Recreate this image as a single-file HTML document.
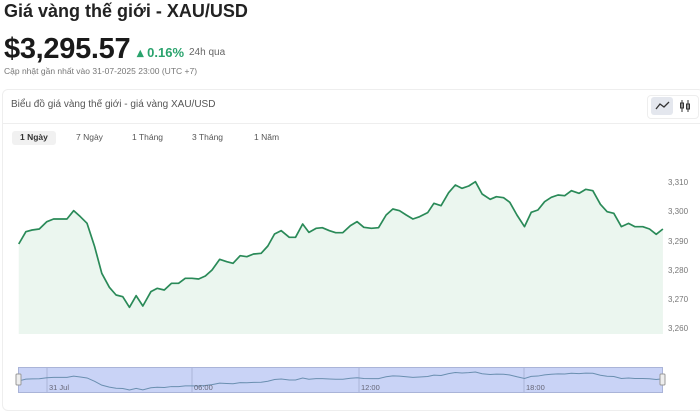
<!DOCTYPE html>
<html><head><meta charset="utf-8"><style>
body{margin:0;width:700px;height:400px;overflow:hidden;background:#fff;font-family:"Liberation Sans",sans-serif;position:relative}
.a{position:absolute;white-space:nowrap}
</style></head><body>
<div class="a" style="left:4px;top:1px;font-size:18px;font-weight:bold;color:#222">Giá vàng thế giới - XAU/USD</div>
<div class="a" style="left:4px;top:33px;font-size:29px;font-weight:bold;color:#1a1a1a;letter-spacing:-0.3px">$3,295.57</div>
<div class="a" style="left:137px;top:45px;font-size:13px;color:#2aa36d;font-weight:bold">▴ 0.16%</div>
<div class="a" style="left:189px;top:47px;font-size:10px;color:#666">24h qua</div>
<div class="a" style="left:4px;top:66px;font-size:8.5px;color:#777">Cập nhật gần nhất vào 31-07-2025 23:00 (UTC +7)</div>
<div class="a" style="left:2px;top:89px;width:700px;height:320px;border:1px solid #eee;border-radius:6px"></div>
<div class="a" style="left:11px;top:99px;font-size:10px;color:#555">Biểu đồ giá vàng thế giới - giá vàng XAU/USD</div>
<div class="a" style="left:3px;top:123px;width:697px;height:1px;background:#eee"></div>
<div class="a" style="left:647px;top:95px;width:50px;height:22px;border:1px solid #eee;border-radius:4px"></div>
<div class="a" style="left:651px;top:97px;width:22px;height:18px;background:#e4e7ee;border-radius:3px"></div>
<svg class="a" style="left:0;top:0" width="700" height="400">
<path d="M656 109 L660 104 L664 107 L669 102" stroke="#333" stroke-width="1.3" fill="none"/>
<path d="M682 100v12M688 100v12" stroke="#333" stroke-width="1"/><rect x="680.5" y="103" width="3" height="5" fill="none" stroke="#333"/><rect x="686.5" y="104" width="3" height="5" fill="none" stroke="#333"/>
</svg>
<div class="a" style="left:12px;top:131px;width:44px;height:14px;background:#f1f1f1;border-radius:3px"></div>
<div class="a" style="left:20px;top:132px;font-size:8.5px;color:#333;font-weight:bold">1 Ngày</div>
<div class="a" style="left:76px;top:132px;font-size:8.5px;color:#555">7 Ngày</div>
<div class="a" style="left:132px;top:132px;font-size:8.5px;color:#555">1 Tháng</div>
<div class="a" style="left:192px;top:132px;font-size:8.5px;color:#555">3 Tháng</div>
<div class="a" style="left:254px;top:132px;font-size:8.5px;color:#555">1 Năm</div>
<svg class="a" style="left:0;top:0" width="700" height="400">
<g transform="translate(0,170) scale(0.4464,0.33333)">
<path d="M42,222 L58,185 L72,180 L88,177 L105,155 L120,147 L150,147 L165,122 L180,140 L195,160 L212,230 L228,310 L245,352 L260,375 L275,380 L290,412 L305,377 L320,408 L338,365 L352,355 L368,360 L384,340 L400,340 L415,325 L430,325 L445,327 L460,318 L475,300 L492,268 L508,275 L522,280 L538,257 L553,260 L568,252 L585,250 L600,228 L615,192 L630,182 L648,202 L662,202 L678,162 L692,187 L708,175 L722,173 L738,182 L752,188 L768,188 L785,167 L800,155 L815,172 L832,175 L848,173 L865,135 L880,117 L895,122 L910,135 L925,147 L940,140 L958,128 L972,100 L988,107 L1005,68 L1020,45 L1035,55 L1050,48 L1065,35 L1080,72 L1098,88 L1112,80 L1128,83 L1142,97 L1158,135 L1175,170 L1190,127 L1205,120 L1220,95 L1235,82 L1250,75 L1265,77 L1280,62 L1297,70 L1312,58 L1328,62 L1345,103 L1360,125 L1375,130 L1392,170 L1408,160 L1422,170 L1440,170 L1455,177 L1470,193 L1485,177 L1485,492 L42,492Z" fill="#ebf6ef"/>
<path d="M42,222 L58,185 L72,180 L88,177 L105,155 L120,147 L150,147 L165,122 L180,140 L195,160 L212,230 L228,310 L245,352 L260,375 L275,380 L290,412 L305,377 L320,408 L338,365 L352,355 L368,360 L384,340 L400,340 L415,325 L430,325 L445,327 L460,318 L475,300 L492,268 L508,275 L522,280 L538,257 L553,260 L568,252 L585,250 L600,228 L615,192 L630,182 L648,202 L662,202 L678,162 L692,187 L708,175 L722,173 L738,182 L752,188 L768,188 L785,167 L800,155 L815,172 L832,175 L848,173 L865,135 L880,117 L895,122 L910,135 L925,147 L940,140 L958,128 L972,100 L988,107 L1005,68 L1020,45 L1035,55 L1050,48 L1065,35 L1080,72 L1098,88 L1112,80 L1128,83 L1142,97 L1158,135 L1175,170 L1190,127 L1205,120 L1220,95 L1235,82 L1250,75 L1265,77 L1280,62 L1297,70 L1312,58 L1328,62 L1345,103 L1360,125 L1375,130 L1392,170 L1408,160 L1422,170 L1440,170 L1455,177 L1470,193 L1485,177" fill="none" stroke="#2a8a58" stroke-width="1.7" vector-effect="non-scaling-stroke" stroke-linejoin="round"/>
</g>
<g font-size="8" fill="#777" font-family="Liberation Sans">
<text x="668" y="185">3,310</text><text x="668" y="214">3,300</text><text x="668" y="244">3,290</text><text x="668" y="273">3,280</text><text x="668" y="302">3,270</text><text x="668" y="331">3,260</text>
</g>
<rect x="18.5" y="367.5" width="644" height="25" fill="#c9d3f6" stroke="#aab4d8"/>
<g stroke="#aab4d8" stroke-width="1"><path d="M47 368v24M192 368v24M359 368v24M524 368v24"/></g>
<g transform="translate(0,370.33) scale(0.4464,0.04775)">
<path d="M42,222 L58,185 L72,180 L88,177 L105,155 L120,147 L150,147 L165,122 L180,140 L195,160 L212,230 L228,310 L245,352 L260,375 L275,380 L290,412 L305,377 L320,408 L338,365 L352,355 L368,360 L384,340 L400,340 L415,325 L430,325 L445,327 L460,318 L475,300 L492,268 L508,275 L522,280 L538,257 L553,260 L568,252 L585,250 L600,228 L615,192 L630,182 L648,202 L662,202 L678,162 L692,187 L708,175 L722,173 L738,182 L752,188 L768,188 L785,167 L800,155 L815,172 L832,175 L848,173 L865,135 L880,117 L895,122 L910,135 L925,147 L940,140 L958,128 L972,100 L988,107 L1005,68 L1020,45 L1035,55 L1050,48 L1065,35 L1080,72 L1098,88 L1112,80 L1128,83 L1142,97 L1158,135 L1175,170 L1190,127 L1205,120 L1220,95 L1235,82 L1250,75 L1265,77 L1280,62 L1297,70 L1312,58 L1328,62 L1345,103 L1360,125 L1375,130 L1392,170 L1408,160 L1422,170 L1440,170 L1455,177 L1470,193 L1485,177" fill="none" stroke="#6a8fb0" stroke-width="1" vector-effect="non-scaling-stroke"/>
</g>
<g font-size="7.5" fill="#667" font-family="Liberation Sans"><text x="49" y="390">31 Jul</text><text x="194" y="390">06:00</text><text x="361" y="390">12:00</text><text x="526" y="390">18:00</text></g>
<rect x="16" y="374" width="5" height="11" fill="#eee" stroke="#999" rx="1"/>
<rect x="660" y="374" width="5" height="11" fill="#eee" stroke="#999" rx="1"/>
</svg>
</body></html>
